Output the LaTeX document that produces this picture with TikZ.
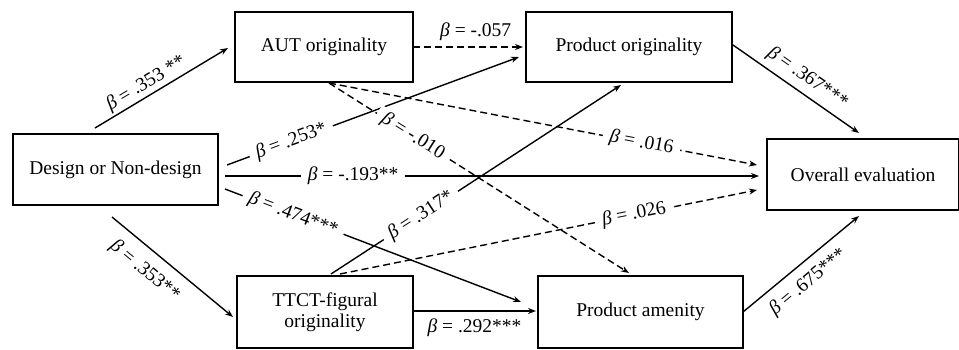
\documentclass[tikz,border=0pt]{standalone}
\usepackage{fontspec}
\setmainfont{Liberation Serif}
\usetikzlibrary{arrows.meta}
\newcommand{\bb}{\textit{β}}
\begin{document}
\begin{tikzpicture}[x=1pt,y=-1pt,
  font=\fontsize{19.5}{23}\selectfont,
  box/.style={draw, line width=1.8pt, inner sep=0pt, align=center},
  conn/.style={line width=1.4pt, -{Stealth[length=8pt,width=6pt]}},
  dsh/.style={conn, dash pattern=on 7pt off 4pt},
  lab/.style={fill=white, inner xsep=7pt, inner ysep=1pt},
  olab/.style={inner sep=2pt}]
\useasboundingbox (0,0) rectangle (959,349);
% boxes
\node[box, minimum width=178pt, minimum height=70pt] (aut) at (324,47) {AUT originality};
\node[box, minimum width=206pt, minimum height=70pt] (po) at (629,47) {Product originality};
\node[box, minimum width=205pt, minimum height=71pt] (dn) at (115.5,169.5) {Design or Non-design};
\node[box, minimum width=192pt, minimum height=71pt] (ov) at (863,174.5) {Overall evaluation};
\node[box, minimum width=176pt, minimum height=72pt] (tt) at (325,312) {TTCT-figural\\[-2pt]originality};
\node[box, minimum width=205pt, minimum height=72pt] (pa) at (640.5,312) {Product amenity};
% endpoints
\coordinate (dnA) at (95,128);   \coordinate (autL) at (228,48);
\coordinate (dnB) at (112,217);  \coordinate (ttT) at (233,317);
\coordinate (dnC) at (227,165);  \coordinate (poA) at (519,57);
\coordinate (dnD) at (225,176);  \coordinate (ovA) at (759,176);
\coordinate (dnE) at (225,189);  \coordinate (paA) at (521,302);
\coordinate (autR) at (413,47);  \coordinate (poL) at (523,47);
\coordinate (autB) at (329,83);  \coordinate (ovB) at (757,165);
\coordinate (paB) at (629,273);
\coordinate (ttA) at (331,274);  \coordinate (poB) at (621,85);
\coordinate (ttB) at (340,274);  \coordinate (ovC) at (757,190);
\coordinate (ttR) at (413,311);  \coordinate (paL) at (536,311);
\coordinate (poR) at (733,45);   \coordinate (ovT) at (859,133);
\coordinate (paR) at (743,312);  \coordinate (ovBt) at (859,216);
% connectors
\draw[conn] (dnA) -- node[sloped, above, olab, pos=0.43] {\bb\ = .353 **} (autL);
\draw[conn] (dnB) -- node[sloped, below, olab, pos=0.38, yshift=-9pt] {\bb\ = .353**} (ttT);
\draw[conn] (dnC) -- node[sloped, lab, pos=0.22] {\bb\ = .253*} (poA);
\draw[conn] (dnD) -- node[lab, pos=0.24] {\bb\ = -.193**} (ovA);
\draw[conn] (dnE) -- node[sloped, lab, pos=0.23] {\bb\ = .474***} (paA);
\draw[dsh] (autR) -- node[above, olab, pos=0.57, yshift=4pt] {\bb\ = -.057} (poL);
\draw[dsh] (autB) -- node[sloped, lab, pos=0.73] {\bb\ = .016} (ovB);
\draw[dsh] (autB) -- node[sloped, lab, pos=0.28] {\bb\ = -.010} (paB);
\draw[conn] (ttA) -- node[sloped, lab, pos=0.31] {\bb\ = .317*} (poB);
\draw[dsh] (ttB) -- node[sloped, lab, pos=0.705] {\bb\ = .026} (ovC);
\draw[conn] (ttR) -- node[below, olab, pos=0.5, yshift=-5pt] {\bb\ = .292***} (paL);
\draw[conn] (poR) -- node[sloped, above, olab, pos=0.52, yshift=4pt] {\bb\ = .367***} (ovT);
\draw[conn] (paR) -- node[sloped, below, olab, pos=0.46, yshift=-7pt] {\bb\ = .675***} (ovBt);
\end{tikzpicture}
\end{document}
